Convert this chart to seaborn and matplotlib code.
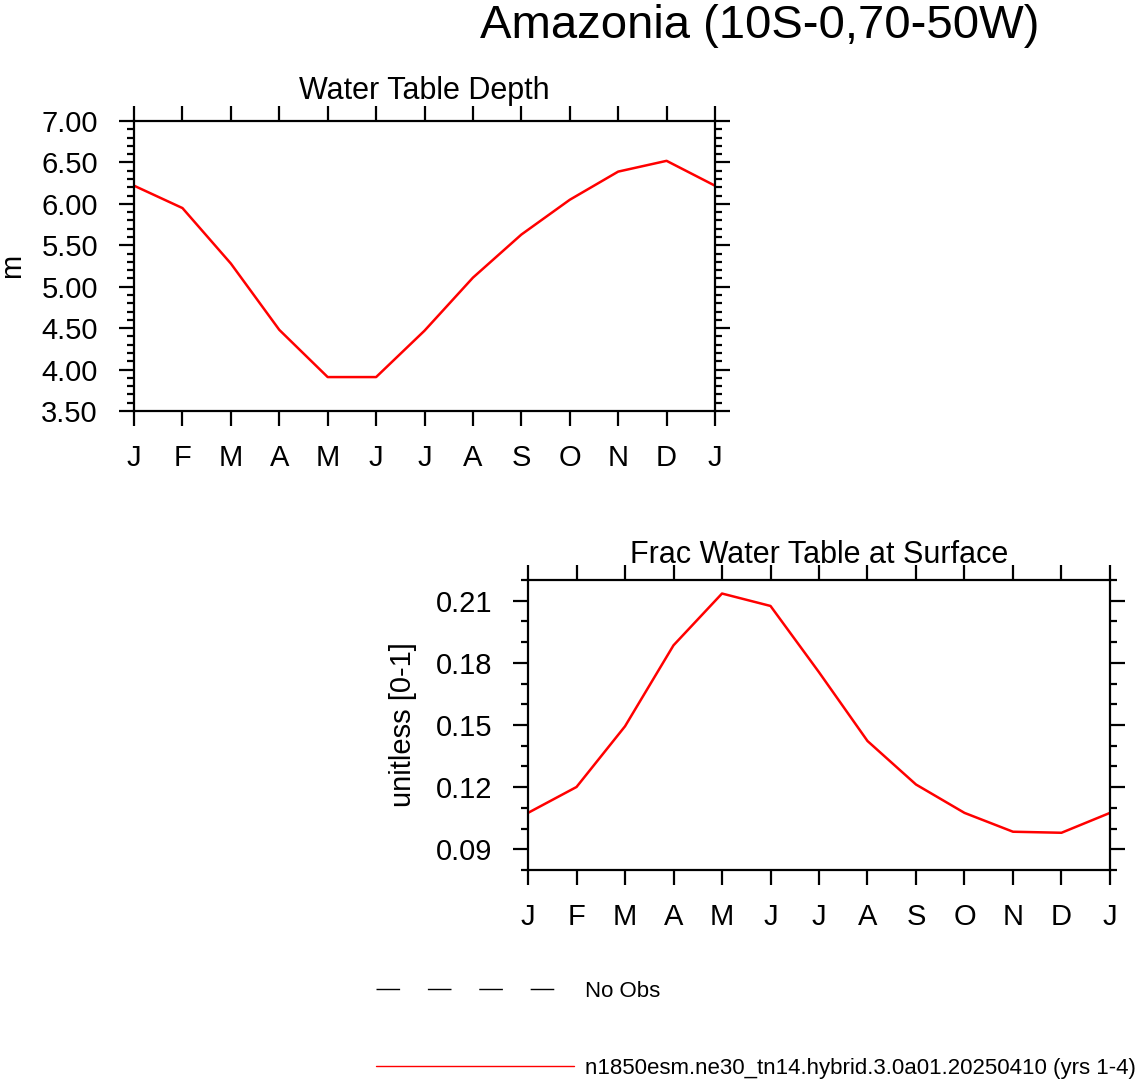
import pandas as pd
import numpy as np
import matplotlib
matplotlib.use("Agg")
import matplotlib.pyplot as plt
import seaborn as sns
from matplotlib.ticker import MultipleLocator, FormatStrFormatter
from matplotlib.lines import Line2D

# month labels (Jan..Dec plus Jan again to close the cycle)
month_labels = ["J", "F", "M", "A", "M", "J", "J", "A", "S", "O", "N", "D", "J"]

# water table depth (m)
wtd = [6.22, 5.95, 5.28, 4.48, 3.91, 3.91, 4.47, 5.11, 5.63, 6.05, 6.39, 6.52, 6.22]

# fraction of water table at surface (unitless)
frac = [0.1076, 0.1201, 0.1494, 0.1885, 0.2135, 0.2075, 0.1755, 0.1423, 0.1213,
        0.1076, 0.0985, 0.0980, 0.1076]

main_title = "Amazonia (10S-0,70-50W)"
case_name = "n1850esm.ne30_tn14.hybrid.3.0a01.20250410 (yrs 1-4)"

df = pd.DataFrame({"month": np.arange(len(month_labels)), "wtd": wtd, "frac": frac})

sns.set_theme(style="ticks")
plt.rcParams["font.family"] = ["Liberation Sans", "DejaVu Sans"]
plt.rcParams["text.color"] = "black"
plt.rcParams["axes.labelcolor"] = "black"
plt.rcParams["xtick.color"] = "black"
plt.rcParams["ytick.color"] = "black"

fig = plt.figure(figsize=(11.36, 10.8), dpi=100)
ax1 = fig.add_axes([0.118, 0.6194, 0.5114, 0.2685])
ax2 = fig.add_axes([0.4648, 0.1944, 0.5123, 0.2685])


def style_axis(ax):
    for sp in ax.spines.values():
        sp.set_linewidth(1.6)
        sp.set_color("black")
    ax.set_xlim(0, 12)
    ax.set_xticks(df["month"])
    ax.set_xticklabels(month_labels)
    ax.tick_params(which="both", direction="out", top=True, right=True,
                   labeltop=False, labelright=False, color="black", width=1.6)
    ax.tick_params(which="major", length=11)
    ax.tick_params(which="minor", length=5)
    ax.tick_params(axis="x", which="major", pad=13, labelsize=21)
    ax.tick_params(axis="y", which="major", pad=15, labelsize=21)
    ax.yaxis.set_major_formatter(FormatStrFormatter("%.2f"))
    ax.set_xlabel("")


# top panel: water table depth
sns.lineplot(data=df, x="month", y="wtd", color="red", linewidth=1.8, ax=ax1)
style_axis(ax1)
ax1.set_ylim(3.5, 7.0)
ax1.yaxis.set_major_locator(MultipleLocator(0.5))
ax1.yaxis.set_minor_locator(MultipleLocator(0.1))
ax1.set_ylabel("m", fontsize=21)
ax1.yaxis.set_label_coords(-0.186, 0.5)
ax1.set_title("Water Table Depth", fontsize=22, y=1.0, pad=16)

# bottom panel: fraction at surface
sns.lineplot(data=df, x="month", y="frac", color="red", linewidth=1.8, ax=ax2)
style_axis(ax2)
ax2.set_ylim(0.08, 0.22)
ax2.yaxis.set_major_locator(MultipleLocator(0.03))
ax2.yaxis.set_minor_locator(MultipleLocator(0.01))
ax2.set_ylabel("unitless [0-1]", fontsize=21)
ax2.yaxis.set_label_coords(-0.191, 0.5)
ax2.set_title("Frac Water Table at Surface", fontsize=22, y=1.0, pad=12)

fig.text(0.669, 0.965, main_title, fontsize=34, ha="center", va="baseline")

handles = [Line2D([], [], color="black", linewidth=1.0, dashes=(17, 20)),
           Line2D([], [], color="red", linewidth=1.0)]
fig.legend(handles, ["No Obs", case_name], loc="upper left",
           bbox_to_anchor=(0.331, 0.0915), frameon=False, fontsize=16,
           handlelength=8.9, handletextpad=0.5, labelspacing=2.5,
           borderaxespad=0, borderpad=0)

fig.savefig("out.png", dpi=100)
